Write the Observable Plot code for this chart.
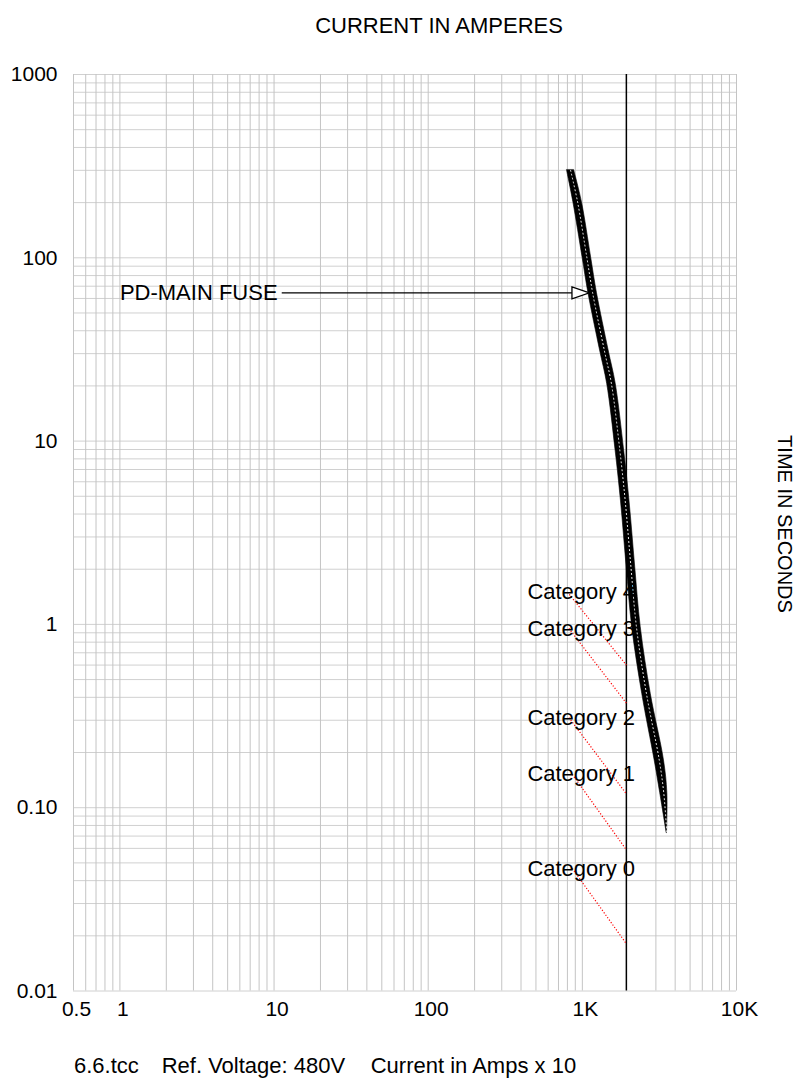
<!DOCTYPE html>
<html>
<head>
<meta charset="utf-8">
<script src="https://cdn.jsdelivr.net/npm/d3@7"></script>
<script src="https://cdn.jsdelivr.net/npm/@observablehq/plot@0.6"></script>
<style>
  html, body { margin: 0; padding: 0; background: #ffffff; }
  #chart { position: relative; width: 797px; height: 1080px; }
</style>
</head>
<body>
<div id="chart"></div>
<script>
const FONT = "'Liberation Sans', Arial, Helvetica, sans-serif";

// ---- axes / grid ----
const xDomain = [0.5, 10000];
const yDomain = [0.01, 1000];
const xTickValues = [0.5, 1, 10, 100, 1000, 10000];
const xTickLabels = ["0.5", "1", "10", "100", "1K", "10K"];
const yTickValues = [0.01, 0.1, 1, 10, 100, 1000];
const yTickLabels = ["0.01", "0.10", "1", "10", "100", "1000"];
const xGridTicks = [0.5, 0.6, 0.7, 0.8, 0.9,
  1, 2, 3, 4, 5, 6, 7, 8, 9,
  10, 20, 30, 40, 50, 60, 70, 80, 90,
  100, 200, 300, 400, 500, 600, 700, 800, 900,
  1000, 3000, 4000, 5000, 6000, 7000, 8000, 9000,
  10000];
const yGridTicks = [0.01, 0.02, 0.03, 0.04, 0.05, 0.06, 0.07, 0.08, 0.09,
  0.1, 0.2, 0.3, 0.4, 0.5, 0.6, 0.7, 0.8, 0.9,
  1, 2, 3, 4, 5, 6, 7, 8, 9,
  10, 20, 30, 40, 50, 60, 70, 80, 90,
  100, 200, 300, 400, 500, 600, 700, 800, 900,
  1000];

// ---- PD-MAIN FUSE band (time in s, min / max current in A) ----
const fuseTime    = [300, 201, 100, 64.4, 31.2, 20.5, 8.88, 4.74, 2.05, 0.966, 0.418, 0.181, 0.12, 0.0726];
const fuseMinAmps = [795, 874, 1004, 1094, 1303, 1449, 1643, 1779, 1939, 2105, 2445, 2945, 3200, 3525];
const fuseMaxAmps = [885, 994, 1141, 1243, 1481, 1647, 1867, 2021, 2203, 2392, 2778, 3385, 3560, 3540];

// ---- fuse label + arrow ----
const fuseLabel = "PD-MAIN FUSE";
const fuseLabelAmps = 1.0;
const fuseArrowTime = 64.4;
const fuseArrowStartAmps = 11.3;
const fuseArrowTipAmps = 1112;

// ---- reference current line ----
const refAmps = 1930;

// ---- categories ----
const catNames = ["Category 4", "Category 3", "Category 2", "Category 1", "Category 0"];
const catLabelAmps = [440, 440, 440, 440, 440];
const catTime = [1.5, 0.95, 0.31, 0.152, 0.0466];
const catLineStartAmps = [800, 818, 818, 861, 861];
const catLineEndAmps = [1930, 1930, 1930, 1930, 1930];
const catLineEndTime = [0.6, 0.372, 0.119, 0.0589, 0.0181];

// ---- texts ----
const titleText = "CURRENT IN AMPERES";
const yTitleText = "TIME IN SECONDS";
const footerParts = ["6.6.tcc", "Ref. Voltage: 480V", "Current in Amps x 10"];

// build tables
const fuseRows = fuseTime.map((t, i) => ({t, lo: fuseMinAmps[i], hi: fuseMaxAmps[i]}));
const catRows = catNames.map((name, i) => ({
  name, lx: catLabelAmps[i], t: catTime[i],
  x1: catLineStartAmps[i], y1: catTime[i], x2: catLineEndAmps[i], y2: catLineEndTime[i]
}));
const xTickRows = xTickValues.map((v, i) => ({v, label: xTickLabels[i]}));

const rightTriangle = {
  draw(context) {
    context.moveTo(0, 0);
    context.lineTo(-17.5, -6);
    context.lineTo(-17.5, 6);
    context.closePath();
  }
};

const W = 797, H = 1080;
const chart = Plot.plot({
  width: W,
  height: H,
  marginTop: 74,
  marginBottom: 89.5,
  marginLeft: 73,
  marginRight: 61,
  style: {fontFamily: FONT, fontSize: "21px", color: "#000", background: "#fff"},
  x: {
    type: "log", domain: xDomain, axis: null, label: null
  },
  y: {
    type: "log", domain: yDomain, ticks: yTickValues,
    tickFormat: d => yTickLabels[yTickValues.findIndex(v => Math.abs(v - d) < v * 1e-6)] ?? "",
    tickSize: 0, tickPadding: 16, label: null
  },
  marks: [
    Plot.ruleY(yGridTicks, {stroke: "#d0d0d0", strokeWidth: 1}),
    Plot.ruleX(xGridTicks, {stroke: "#c4c4c4", strokeWidth: 1}),
    Plot.ruleX([refAmps], {stroke: "#000", strokeWidth: 1.5}),
    Plot.link(catRows, {x1: "x1", y1: "y1", x2: "x2", y2: "y2", stroke: "#ff0000", strokeWidth: 1.2, strokeDasharray: "1.2,1.8"}),
    Plot.areaX(fuseRows, {y: "t", x1: "lo", x2: "hi", fill: "#000", stroke: "#000", strokeWidth: 0.6, curve: "catmull-rom"}),
    Plot.line(fuseRows, {x: d => Math.sqrt(d.lo * d.hi), y: "t", stroke: "#fff", strokeWidth: 1, strokeDasharray: "1,3", curve: "catmull-rom"}),
    Plot.ruleY([fuseArrowTime], {x1: fuseArrowStartAmps, x2: fuseArrowTipAmps, stroke: "#000", strokeWidth: 1.3}),
    Plot.dot([fuseArrowTime], {x: () => fuseArrowTipAmps, y: d => d, symbol: rightTriangle, r: 5, fill: "#fff", stroke: "#000", strokeWidth: 1.3}),
    Plot.text([fuseLabel], {x: () => fuseLabelAmps, y: () => fuseArrowTime, text: d => d, textAnchor: "start", fontSize: 22, fill: "#000"}),
    Plot.text(catRows, {x: "lx", y: "t", text: "name", textAnchor: "start", fontSize: 22, fill: "#000"}),
    // x-axis tick labels (drawn as text so that every label, including 0.5, is kept)
    Plot.text(xTickRows, {x: "v", text: "label", frameAnchor: "bottom", lineAnchor: "top", dy: 10, dx: 3, fontSize: 21, fill: "#000"})
  ]
});

const svg = d3.select(chart.tagName.toLowerCase() === "svg" ? chart : chart.querySelector("svg"));
svg.style("overflow", "visible");

svg.append("text")
  .attr("x", 439).attr("y", 32.7)
  .attr("text-anchor", "middle")
  .style("font-family", FONT).style("font-size", "22px").attr("fill", "#000")
  .text(titleText);

svg.append("text")
  .attr("transform", "translate(778,524) rotate(90)")
  .attr("text-anchor", "middle")
  .style("font-family", FONT).style("font-size", "20px").attr("fill", "#000")
  .text(yTitleText);

const footer = svg.append("text")
  .attr("y", 1073)
  .attr("text-anchor", "start")
  .style("font-family", FONT).style("font-size", "22px").attr("fill", "#000");
const footerX = [74, 161.7, 370.7];
footerParts.forEach((p, i) => footer.append("tspan").attr("x", footerX[i]).text(p));

document.getElementById("chart").appendChild(chart);
</script>
</body>
</html>
